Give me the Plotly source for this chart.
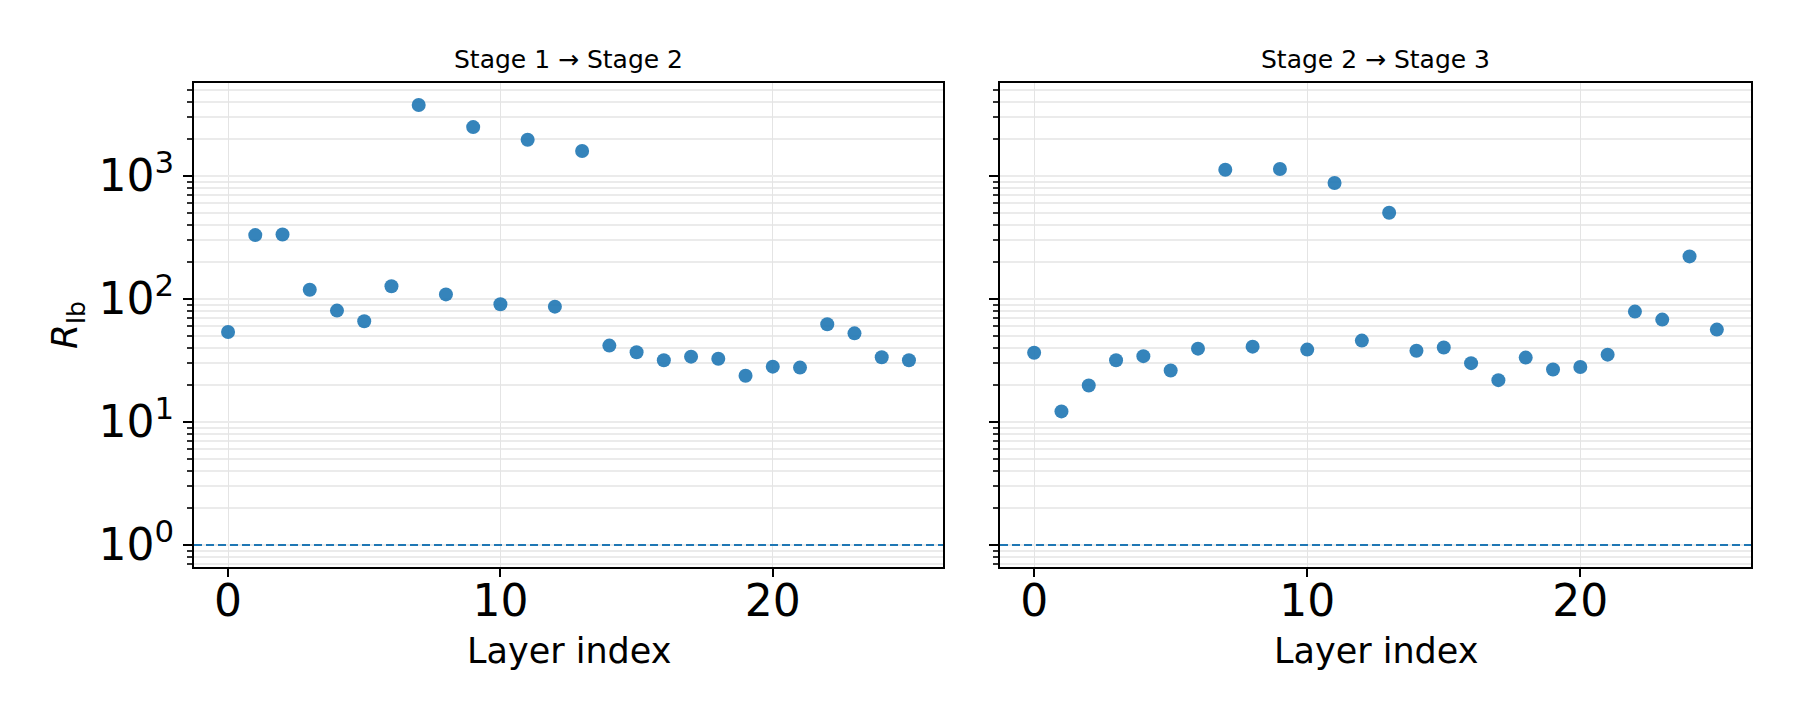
import numpy as np
import plotly.graph_objects as go

# ---------------- data ----------------
layers = list(range(26))
stage12 = [54, 331, 335, 119, 80.5, 66, 127, 3780, 109, 2500, 90.6, 1974, 86.7, 1596,
           41.8, 36.9, 31.8, 34.0, 32.7, 23.8, 28.2, 27.7, 62.3, 52.6, 33.6, 31.8]
stage23 = [36.6, 12.2, 19.8, 31.8, 34.3, 26.2, 39.5, 1125, 41.0, 1140, 38.8, 877, 45.9, 503,
           38.0, 40.3, 30.1, 21.9, 33.4, 26.7, 28.0, 35.3, 79, 68, 222, 56.4]
panel_titles = ["Stage 1 → Stage 2", "Stage 2 → Stage 3"]
threshold = 1.0
ytick_vals = [1, 10, 100, 1000]
ytick_text = ["10<sup>0</sup>", "10<sup>1</sup>", "10<sup>2</sup>", "10<sup>3</sup>"]
xtick_vals = [0, 10, 20]
xlabel = "Layer index"
ylabel = "<i>R</i><sub>lb</sub>"

# ---------------- styling ----------------
FONT = "DejaVu Sans"
BLUE = "#1f77b4"
GRID = "#ebebeb"
# page body has an 8px margin; size the figure so the page is exactly 1800x720
OFF = 8
W, H = 1800 - 2 * OFF, 720 - 2 * OFF

# ranges with matplotlib-like 5% margins
xmin, xmax = min(layers), max(layers)
xpad = 0.05 * (xmax - xmin)
xrange_ = [xmin - xpad, xmax + xpad]
lo = np.log10(min(min(stage12), min(stage23), threshold))
hi = np.log10(max(max(stage12), max(stage23), threshold))
ypad = 0.05 * (hi - lo)
yrange_ = [lo - ypad, hi + ypad]

minor_vals = [k * 10.0 ** e for e in range(-1, 4) for k in range(2, 10)]

def px_x(p):
    return (p - OFF) / W

def px_y(p):
    return 1 - (p - OFF) / H

xdomains = [[px_x(194), px_x(943)], [px_x(1000), px_x(1751)]]
ydomain = [px_y(567), px_y(83)]

fig = go.Figure()
series = [stage12, stage23]
for i, vals in enumerate(series):
    xa = "x" if i == 0 else "x2"
    ya = "y" if i == 0 else "y2"
    fig.add_trace(go.Scatter(
        x=layers, y=vals, mode="markers", xaxis=xa, yaxis=ya,
        marker=dict(size=14, color=BLUE, opacity=0.9, line=dict(width=0)),
        showlegend=False, hoverinfo="x+y"))
    fig.add_shape(type="line", xref=f"{xa} domain", yref=ya, x0=0, x1=1,
                  y0=threshold, y1=threshold,
                  line=dict(color=BLUE, width=2.2, dash="8px,4px"))

common_x = dict(
    range=xrange_, tickmode="array", tickvals=xtick_vals,
    ticks="outside", ticklen=8, tickwidth=2, tickcolor="black",
    showline=True, linecolor="black", linewidth=2, mirror=True,
    showgrid=True, gridcolor="#e4e4e4", gridwidth=1, zeroline=False,
    tickfont=dict(family=FONT, size=44, color="black"),
    ticklabelstandoff=-14,
    automargin=False,
)
common_y = dict(
    type="log", range=yrange_, tickmode="array", tickvals=ytick_vals, ticktext=ytick_text,
    ticks="outside", ticklen=9, tickwidth=2, tickcolor="black",
    showline=True, linecolor="black", linewidth=2, mirror=True,
    showgrid=True, gridcolor=GRID, gridwidth=1.5, zeroline=False,
    minor=dict(tickmode="array", tickvals=minor_vals, ticks="outside", ticklen=5,
               tickwidth=1.5, tickcolor="#333333", showgrid=True, gridcolor=GRID, gridwidth=1.5),
    tickfont=dict(family=FONT, size=44, color="black"),
    automargin=False, domain=ydomain,
)

fig.update_layout(
    width=W, height=H,
    margin=dict(l=0, r=0, t=0, b=0),
    paper_bgcolor="white", plot_bgcolor="white",
    font=dict(family=FONT, color="black"),
    xaxis=dict(common_x, domain=xdomains[0], anchor="y"),
    xaxis2=dict(common_x, domain=xdomains[1], anchor="y2"),
    yaxis=dict(common_y, anchor="x",
               title=dict(text=ylabel, font=dict(family=FONT, size=36, color="black"), standoff=10)),
    yaxis2=dict(common_y, anchor="x2", matches="y", showticklabels=False),
)

for i, t in enumerate(panel_titles):
    fig.add_annotation(text=t, xref="paper", yref="paper",
                       x=sum(xdomains[i]) / 2, y=px_y(60), xanchor="center", yanchor="middle",
                       showarrow=False, font=dict(family=FONT, size=25, color="black"))
    fig.add_annotation(text=xlabel, xref="paper", yref="paper",
                       x=sum(xdomains[i]) / 2, y=px_y(651), xanchor="center", yanchor="middle",
                       showarrow=False, font=dict(family=FONT, size=35, color="black"))

fig.write_html("out.html")
